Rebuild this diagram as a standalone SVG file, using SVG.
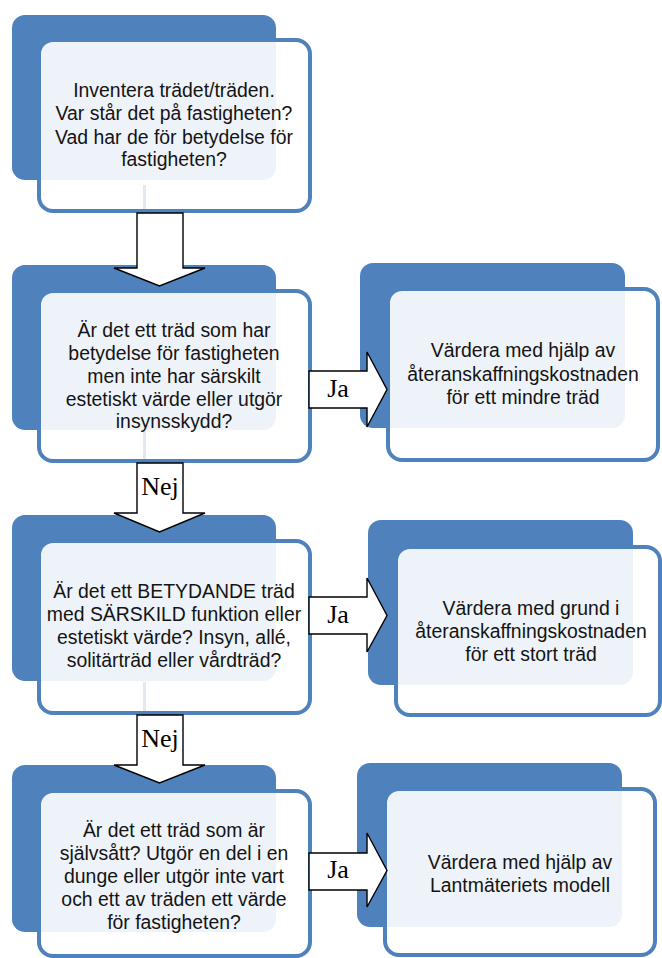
<svg xmlns="http://www.w3.org/2000/svg" width="662" height="958" viewBox="0 0 662 958">
<style>
.back{fill:#4F81BD;}
.front{fill:#FFFFFF;fill-opacity:0.9;stroke:#4F81BD;stroke-width:4;}
.t{font-family:"Liberation Sans",Arial,sans-serif;font-size:19.4px;fill:#141414;text-anchor:middle;}
.arr{fill:#FFFFFF;stroke:#000000;stroke-width:1.4;stroke-linejoin:miter;}
.lbl{font-family:"Liberation Serif","Times New Roman",serif;font-size:26px;fill:#000000;text-anchor:middle;}
.faint{stroke:#E3E9F2;stroke-width:3;}
</style>
<rect width="662" height="958" fill="#FFFFFF"/>
<g id="node1">
<rect class="back" x="12" y="15" width="264" height="165" rx="13"/>
<rect class="front" x="39" y="40" width="271" height="171" rx="14"/>
<line class="faint" x1="144.5" y1="185" x2="144.5" y2="209"/>
<text class="t"><tspan x="174" y="97">Inventera trädet/träden.</tspan><tspan x="174" y="120">Var står det på fastigheten?</tspan><tspan x="174" y="143.5">Vad har de för betydelse för</tspan><tspan x="174" y="166">fastigheten?</tspan></text>
</g>
<g id="node2">
<rect class="back" x="12" y="265" width="264" height="165" rx="13"/>
<rect class="front" x="39" y="291" width="271" height="170" rx="14"/>
<line class="faint" x1="144.5" y1="431" x2="144.5" y2="459"/>
<text class="t"><tspan x="174" y="337">Är det ett träd som har</tspan><tspan x="174" y="359.5">betydelse för fastigheten</tspan><tspan x="174" y="382.5">men inte har särskilt</tspan><tspan x="174" y="405.5">estetiskt värde eller utgör</tspan><tspan x="174" y="428">insynsskydd?</tspan></text>
</g>
<g id="node3">
<rect class="back" x="12" y="515" width="264" height="166" rx="13"/>
<rect class="front" x="39" y="541" width="271" height="172" rx="14"/>
<line class="faint" x1="144.5" y1="682" x2="144.5" y2="711"/>
<text class="t"><tspan x="174" y="598">Är det ett BETYDANDE träd</tspan><tspan x="174" y="621">med SÄRSKILD funktion eller</tspan><tspan x="174" y="644">estetiskt värde? Insyn, allé,</tspan><tspan x="174" y="666.5">solitärträd eller vårdträd?</tspan></text>
</g>
<g id="node4">
<rect class="back" x="12" y="765" width="264" height="167" rx="13"/>
<rect class="front" x="39" y="791" width="271" height="165" rx="14"/>
<text class="t"><tspan x="174" y="836.5">Är det ett träd som är</tspan><tspan x="174" y="859.5">självsått? Utgör en del i en</tspan><tspan x="174" y="883">dunge eller utgör inte vart</tspan><tspan x="174" y="906">och ett av träden ett värde</tspan><tspan x="174" y="929">för fastigheten?</tspan></text>
</g>
<g id="node5">
<rect class="back" x="360" y="263" width="265" height="165" rx="13"/>
<rect class="front" x="388" y="289" width="270" height="171" rx="14"/>
<text class="t"><tspan x="523" y="357">Värdera med hjälp av</tspan><tspan x="523" y="381">återanskaffningskostnaden</tspan><tspan x="523" y="404">för ett mindre träd</tspan></text>
</g>
<g id="node6">
<rect class="back" x="368" y="520" width="265" height="165" rx="13"/>
<rect class="front" x="396" y="547" width="264" height="168" rx="14"/>
<text class="t"><tspan x="531" y="614.5">Värdera med grund i</tspan><tspan x="531" y="638">återanskaffningskostnaden</tspan><tspan x="531" y="660.5">för ett stort träd</tspan></text>
</g>
<g id="node7">
<rect class="back" x="357" y="763" width="265" height="164" rx="13"/>
<rect class="front" x="385" y="789" width="270" height="166" rx="14"/>
<text class="t"><tspan x="520" y="868.5">Värdera med hjälp av</tspan><tspan x="520" y="891.5">Lantmäteriets modell</tspan></text>
</g>
<g id="connectors">
<polygon class="arr" points="137,213 183,213 183,268 205,268 159.5,286 114,268 137,268"/>
<polygon class="arr" points="137,463 183,463 183,513 205,513 159.5,532 114,513 137,513"/>
<text class="lbl" x="160" y="495">Nej</text>
<polygon class="arr" points="137,715 183,715 183,765 205,765 159.5,783 114,765 137,765"/>
<text class="lbl" x="160" y="747">Nej</text>
<polygon class="arr" points="309,371 367,371 367,352 387,389.5 367,427 367,408 309,408"/>
<text class="lbl" x="338" y="397">Ja</text>
<polygon class="arr" points="309,597 367,597 367,578 387,615.5 367,652 367,634 309,634"/>
<text class="lbl" x="338" y="623">Ja</text>
<polygon class="arr" points="309,853 367,853 367,833 387,870.5 367,907 367,890 309,890"/>
<text class="lbl" x="338" y="878">Ja</text>
</g>
</svg>
